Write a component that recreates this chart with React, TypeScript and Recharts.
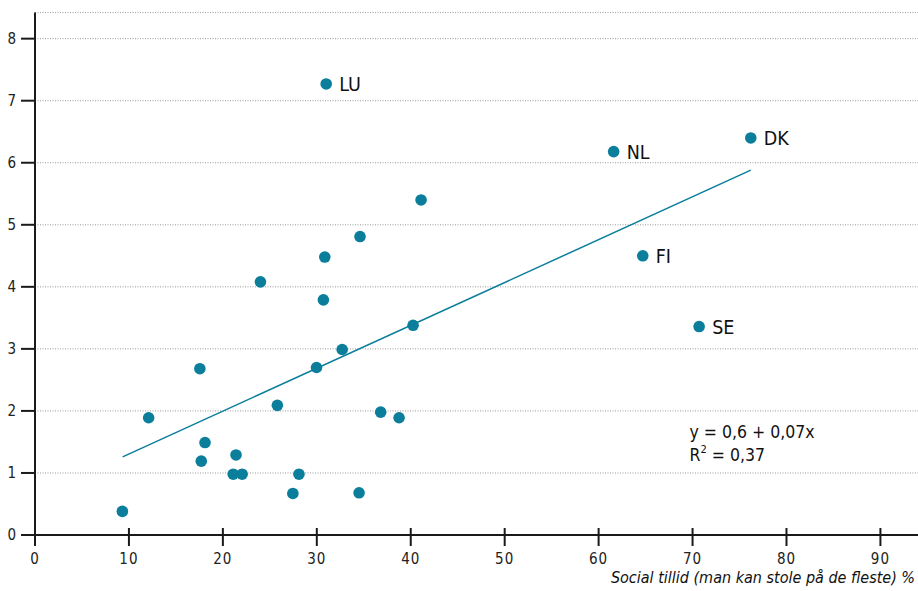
import React from 'react';
import {
  ScatterChart,
  Scatter,
  XAxis,
  YAxis,
  ZAxis,
  CartesianGrid,
  ReferenceLine,
  ReferenceDot,
} from 'recharts';

const FONT = "'Liberation Sans Narrow', 'DejaVu Sans Condensed', 'Arial Narrow', sans-serif";
const DOT = '#0a7e9b';
const AXIS = '#1a1a1a';

// Unlabelled countries
const otherX = [9.3, 12.1, 17.55, 17.7, 18.1, 21.4, 21.1, 22.05, 24.0, 25.8, 27.45, 28.1, 29.97, 30.7, 30.85, 32.7, 34.5, 34.6, 36.8, 38.76, 40.25, 41.1];
const otherY = [0.38, 1.89, 2.68, 1.19, 1.49, 1.29, 0.98, 0.98, 4.08, 2.09, 0.67, 0.98, 2.7, 3.79, 4.48, 2.99, 0.68, 4.81, 1.98, 1.89, 3.38, 5.4];

// Labelled countries
const namedLabels = ['LU', 'NL', 'DK', 'FI', 'SE'];
const namedX = [31.0, 61.6, 76.2, 64.7, 70.7];
const namedY = [7.27, 6.18, 6.4, 4.5, 3.36];

// Regression line endpoints
const trendX = [9.33, 76.2];
const trendY = [1.26, 5.88];

const xTicks = [0, 10, 20, 30, 40, 50, 60, 70, 80, 90];
const yTicks = [0, 1, 2, 3, 4, 5, 6, 7, 8];

const equationLine1 = 'y = 0,6 + 0,07x';
const equationPos = { x: 69.68, y: 1.565 };
const xAxisTitle = 'Social tillid (man kan stole på de fleste) %';

const otherData = otherX.map((x, i) => ({ x, y: otherY[i] }));
const namedData = namedX.map((x, i) => ({ x, y: namedY[i], label: namedLabels[i] }));
const trendSegment = trendX.map((x, i) => ({ x, y: trendY[i] }));

const XTick = (props: any) => {
  const { x, y, payload } = props;
  return (
    <g>
      <line x1={x} x2={x} y1={y - 7} y2={y + 11} stroke={AXIS} strokeWidth={2} />
      <text
        x={x}
        y={y + 28.5}
        textAnchor="middle"
        fontSize={15}
        letterSpacing={1}
        fill="#222"
        fontFamily={FONT}
      >
        {payload.value}
      </text>
    </g>
  );
};

const YTick = (props: any) => {
  const { x, y, payload } = props;
  return (
    <text x={x} y={y} dy={5} textAnchor="end" fontSize={15} fill="#222" fontFamily={FONT}>
      {payload.value}
    </text>
  );
};

const NamedDot = (props: any) => {
  const { cx, cy, payload } = props;
  return (
    <g>
      <circle cx={cx} cy={cy} r={5.8} fill={DOT} />
      <text
        x={cx + 13}
        y={cy}
        dy={7}
        fontSize={19.5}
        fill="#111"
        fontFamily={FONT}
      >
        {payload.label}
      </text>
    </g>
  );
};

const PlainDot = (props: any) => {
  const { cx, cy } = props;
  return <circle cx={cx} cy={cy} r={5.8} fill={DOT} />;
};

const EquationLabel = (props: any) => {
  const vb = props.viewBox || {};
  const x = vb.x ?? 0;
  const y = vb.y ?? 0;
  return (
    <g fontFamily={FONT} fill="#111" fontSize={17.5}>
      <text x={x} y={y}>{equationLine1}</text>
      <text x={x} y={y + 23}>
        R<tspan fontSize={11} dy={-8}>2</tspan>
        <tspan dy={8}> = 0,37</tspan>
      </text>
    </g>
  );
};

const XTitle = (props: any) => {
  const vb = props.viewBox || {};
  return (
    <text
      x={vb.x + vb.width - 3}
      y={vb.y + 48}
      textAnchor="end"
      fontSize={16}
      fontStyle="italic"
      fill="#111"
      fontFamily={FONT}
    >
      {xAxisTitle}
    </text>
  );
};

export default function App() {
  return (
    <div style={{ position: 'absolute', left: 0, top: 0, width: 918, height: 591, background: '#fff' }}>
      <ScatterChart
        width={918}
        height={591}
        margin={{ top: 12.6, right: 0, bottom: 0, left: 0 }}
      >
        <CartesianGrid
          vertical={false}
          stroke="#999"
          strokeDasharray="1 1.5"
        />
        <XAxis
          type="number"
          dataKey="x"
          domain={[0, 94]}
          ticks={xTicks}
          allowDataOverflow
          height={56}
          tickSize={0}
          tickMargin={0}
          tickLine={false}
          tick={<XTick />}
          axisLine={{ stroke: AXIS, strokeWidth: 2 }}
          label={<XTitle />}
          interval={0}
        />
        <YAxis
          type="number"
          dataKey="y"
          domain={[0, 8.42]}
          ticks={yTicks}
          allowDataOverflow
          width={35}
          tickSize={14}
          tickMargin={5}
          tickLine={{ stroke: AXIS, strokeWidth: 2 }}
          tick={<YTick />}
          axisLine={{ stroke: AXIS, strokeWidth: 2 }}
          interval={0}
        />
        <ZAxis range={[106, 106]} />
        <ReferenceLine
          segment={trendSegment}
          stroke={DOT}
          strokeWidth={1.5}
          ifOverflow="visible"
        />
        <Scatter data={otherData} fill={DOT} shape={<PlainDot />} isAnimationActive={false} />
        <Scatter data={namedData} fill={DOT} shape={<NamedDot />} isAnimationActive={false} />
        <ReferenceDot
          x={equationPos.x}
          y={equationPos.y}
          r={0}
          fill="none"
          stroke="none"
          ifOverflow="visible"
          label={(p: any) => <EquationLabel {...p} />}
        />
      </ScatterChart>
    </div>
  );
}
